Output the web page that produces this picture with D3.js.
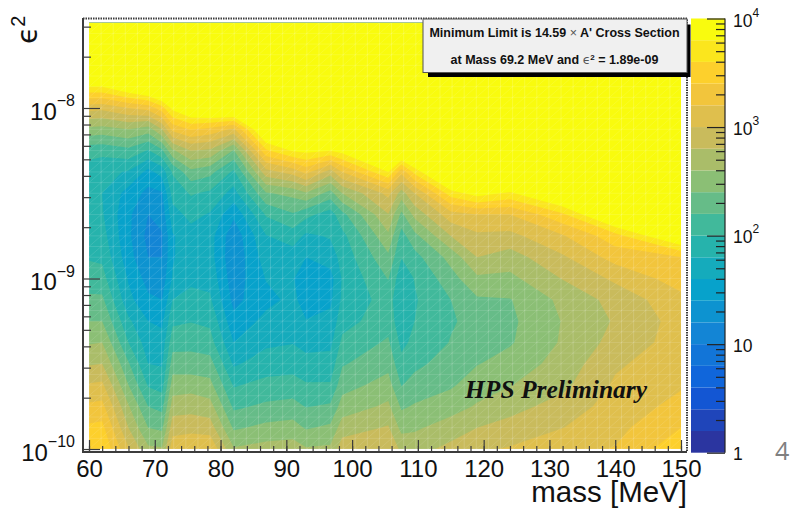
<!DOCTYPE html>
<html>
<head>
<meta charset="utf-8">
<script src="https://cdn.jsdelivr.net/npm/d3@7"></script>
<style>
  html, body { margin: 0; padding: 0; background: #fff; }
  svg { display: block; }
  text { font-family: "Liberation Sans", Arial, sans-serif; fill: #111; }
</style>
</head>
<body>
<div id="chart"></div>
<script>
// mass columns [MeV] and log10(eps^2) rows of the limit table
const masses = [60, 62, 66, 69, 71.1, 72.7, 75.5, 78.4, 82, 86.9, 91, 93, 96.7, 98.5, 105.5, 107.5, 109.5, 115, 119, 124, 132, 140, 150];
const logEps = [-10, -9.875, -9.75, -9.625, -9.5, -9.375, -9.25, -9.125, -9, -8.875, -8.75, -8.625, -8.5, -8.375, -8.25, -8.125, -8, -7.875, -7.75, -7.5];

// limit, in colour bar bands: level = 5 * log10(limit)
// one line per mass, bottom row of the plot first
const limitLevel = [
    [17.9, 17.2, 16.2, 15.1, 13.9, 12.9, 12.0, 11.2, 10.5, 9.9, 9.6, 9.4, 9.4, 9.5, 10.4, 12.7, 15.4, 19.0, 23, 30],
    [17.95, 17.3, 16.3, 15.2, 14.0, 13.0, 12.0, 11.2, 10.4, 9.8, 9.4, 9.1, 9.0, 9.3, 10.3, 12.6, 15.3, 19.0, 23, 30],
    [15.1, 14.0, 13.1, 12.0, 11.1, 10.0, 9.2, 8.3, 7.9, 7.4, 7.2, 7.2, 7.6, 8.9, 10.7, 13.0, 16.0, 20.2, 24, 30],
    [13.2, 12.0, 11.0, 9.9, 9.0, 8.5, 8.0, 7.2, 6.6, 6.0, 5.7, 6.0, 6.7, 7.7, 9.9, 12.5, 16.4, 21, 24, 30],
    [13.1, 11.8, 10.7, 9.6, 8.9, 8.4, 7.8, 7.0, 6.4, 6.0, 5.9, 6.4, 6.9, 8.4, 10.8, 14.0, 17.6, 22, 25, 30],
    [15.6, 14.6, 13.5, 12.5, 11.5, 10.6, 9.8, 9.0, 8.1, 7.9, 7.9, 8.6, 9.4, 10.1, 12.8, 16.3, 19.3, 23, 26, 30],
    [15.8, 14.7, 13.6, 12.6, 11.4, 10.7, 9.95, 9.3, 8.8, 8.6, 8.6, 9.3, 10.1, 11.7, 14.0, 17.1, 20.5, 24, 27, 30],
    [15.9, 14.5, 13.4, 12.3, 11.4, 10.4, 9.8, 9.15, 8.7, 8.4, 8.4, 8.9, 9.8, 11.3, 13.8, 16.7, 21, 24, 27, 30],
    [13.1, 11.85, 10.8, 9.9, 8.85, 8.0, 7.3, 6.7, 6.4, 6.2, 6.3, 7.2, 8.6, 9.8, 11.9, 15.8, 21.3, 25, 27, 30],
    [13.4, 12.25, 11.2, 10.3, 9.5, 8.8, 8.3, 7.7, 8.05, 8.5, 8.95, 10.1, 11.9, 14.6, 17.8, 21, 24, 26, 28, 30],
    [13.5, 12.4, 11.35, 10.4, 9.6, 8.95, 8.6, 8.25, 8.1, 8.5, 9.5, 10.9, 12.3, 15.4, 19.1, 23, 25, 26, 28, 30],
    [13.1, 11.9, 10.95, 10.1, 9.35, 8.65, 8.05, 7.5, 7.2, 8.0, 8.8, 10.3, 12.9, 16.3, 19.3, 23, 25, 26, 28, 30],
    [13.2, 12.2, 11.15, 10.1, 9.4, 8.75, 8.3, 7.8, 7.6, 8.5, 9.1, 9.5, 11.6, 14.5, 19.0, 23, 25, 26, 28, 30],
    [14.6, 13.5, 12.45, 11.6, 10.9, 10.25, 9.6, 9.2, 9.1, 9.35, 9.7, 10.7, 13.0, 16.0, 19.4, 23, 25, 26, 28, 30],
    [14.95, 14.1, 13.2, 12.4, 11.7, 11.15, 10.6, 10.45, 11.05, 11.8, 12.8, 13.95, 15.3, 19.0, 22, 24, 26, 27, 28, 30],
    [13.75, 12.7, 11.85, 10.95, 10.3, 9.75, 9.3, 9.15, 9.3, 10.05, 10.6, 11.75, 13.55, 16.3, 21.2, 24, 26, 27, 28, 30],
    [13.6, 12.85, 12.1, 11.4, 10.75, 10.25, 10.0, 9.9, 10.05, 10.65, 11.7, 13.3, 15.0, 18.3, 22, 24, 26, 27, 28, 30],
    [14.3, 13.45, 12.6, 11.85, 11.45, 11.05, 10.9, 11.0, 11.6, 12.35, 14.0, 15.6, 18.5, 22, 24, 25, 26, 27, 28, 30],
    [14.8, 14.0, 13.1, 12.55, 11.95, 11.5, 11.3, 11.85, 12.8, 14.0, 14.8, 16.0, 19.5, 23, 25, 26, 27, 28, 29, 30],
    [15.1, 14.35, 13.65, 12.95, 12.4, 11.9, 11.8, 11.95, 12.75, 13.55, 14.7, 16.0, 18.8, 22.5, 25, 26, 27, 28, 29, 30],
    [15.7, 14.98, 14.4, 13.75, 13.4, 13.12, 13.05, 13.25, 14.05, 14.85, 15.9, 17.8, 21, 24, 26, 27, 28, 28, 29, 30],
    [16.05, 15.7, 15.45, 15.15, 14.85, 14.35, 14.1, 14.35, 15.2, 16.4, 17.6, 21, 24, 26, 27, 28, 28, 29, 29, 30],
    [17.7, 17.0, 16.3, 15.9, 15.6, 15.45, 15.4, 15.7, 16.5, 17.0, 20.5, 23, 25, 26, 27, 28, 28, 29, 29, 30]
];

// ROOT kBird palette, first stop nudged to what the colour bar shows
const birdStops = [0, 0.125, 0.25, 0.375, 0.5, 0.625, 0.75, 0.875, 1];
const birdColors = ["#2b35a0", "#0f5cdd", "#1481d6", "#06a4ca", "#2eb7a4", "#87bf77", "#d1bb59", "#fec832", "#f9fb0e"];
const bandLevels = d3.range(0, 20);

const xMajor = d3.range(60, 151, 10);
const xMinor = d3.range(60, 151, 2);
const yMajor = [1e-10, 1e-9, 1e-8];
const barMajor = [1, 10, 100, 1000, 10000];

const width = 792, height = 510;

const svg = d3.select("#chart").append("svg")
    .attr("width", width)
    .attr("height", height);

const x = d3.scaleLinear().domain([60, 150]).range([89, 681]);
const y = d3.scaleLog().domain([1e-10, Math.pow(10, -7.5)]).range([449, 22.75]);
const bar = d3.scaleLog().domain([1, 10000]).range([452.7, 18.5]);

const bird = d3.scaleLinear().domain(birdStops).range(birdColors);
const bandColor = i => bird(i / 19);

// contour grid coords -> pixels, the table is not evenly spaced
const gridX = d3.scaleLinear()
    .domain(masses.map((m, i) => i + 0.5))
    .range(masses.map(m => x(m)))
    .clamp(true);
const gridY = d3.scaleLinear()
    .domain(logEps.map((e, j) => j + 0.5))
    .range(logEps.map(e => y(Math.pow(10, e))))
    .clamp(true);

const gridPath = d3.geoPath(d3.geoTransform({
    point(px, py) { this.stream.point(gridX(px), gridY(py)); }
}));

svg.append("clipPath").attr("id", "plot-clip")
    .append("rect")
    .attr("x", x(60))
    .attr("y", y.range()[1])
    .attr("width", x(150) - x(60))
    .attr("height", y.range()[0] - y.range()[1]);

const plot = svg.append("g").attr("clip-path", "url(#plot-clip)");

// filled contours, one per colour bar band
const rows = d3.transpose(limitLevel);
const contours = d3.contours()
    .size([masses.length, logEps.length])
    .thresholds(bandLevels)(rows.flat());

plot.selectAll("path.band")
    .data(contours)
    .enter().append("path")
    .attr("class", "band")
    .attr("d", gridPath)
    .attr("fill", d => bandColor(d.value));

// pale seams of the triangle mesh that the pdf renderer leaves behind
const meshMass = d3.range(60, 151, 1.84);
const meshEps = d3.range(-10, -7.49, 0.0625);
const meshLine = d3.line();
const mesh = plot.append("g").attr("fill", "none").attr("stroke", "#fff");

mesh.selectAll("line.vert")
    .data(meshMass)
    .enter().append("line")
    .attr("class", "vert")
    .attr("x1", d => x(d)).attr("x2", d => x(d))
    .attr("y1", y.range()[0]).attr("y2", y.range()[1])
    .attr("stroke-opacity", 0.17);

mesh.selectAll("line.horz")
    .data(meshEps)
    .enter().append("line")
    .attr("class", "horz")
    .attr("x1", x(60)).attr("x2", x(150))
    .attr("y1", d => y(Math.pow(10, d))).attr("y2", d => y(Math.pow(10, d)))
    .attr("stroke-opacity", 0.12);

const cells = d3.cross(meshMass, meshEps);
mesh.append("path")
    .attr("d", cells.map(c => meshLine([
        [x(c[0]), y(Math.pow(10, c[1]))],
        [x(c[0] + 1.84), y(Math.pow(10, c[1] + 0.0625))]
    ])).join(""))
    .attr("stroke-opacity", 0.11);

// frame: top and right edges print as dotted
const axisColor = "#3c3c3c";
svg.append("path")
    .attr("d", "M83,18.5H687V452")
    .attr("fill", "none")
    .attr("stroke", axisColor)
    .attr("stroke-width", 2)
    .attr("stroke-dasharray", "1.5 1");

svg.append("path")
    .attr("d", "M83,18V452H687")
    .attr("fill", "none")
    .attr("stroke", axisColor)
    .attr("stroke-width", 2);

function drawTicks(axis, translate, color) {
    const g = svg.append("g")
        .attr("transform", translate)
        .call(axis);
    g.select(".domain").remove();
    g.selectAll(".tick line").attr("stroke", color).attr("stroke-width", 1.2);
    return g;
}

// x axis, ticks point up into the plot
drawTicks(d3.axisBottom(x).tickValues(xMinor).tickSize(-6).tickFormat(""), "translate(0,452)", axisColor);
const xMajorAxis = drawTicks(
    d3.axisBottom(x).tickValues(xMajor).tickSize(-12).tickPadding(7).tickFormat(d => d),
    "translate(0,452)", axisColor);
xMajorAxis.selectAll("text")
    .attr("y", 25)
    .attr("dy", 0)
    .style("font-family", '"Liberation Sans", Arial, sans-serif')
    .style("font-size", "24px")
    .style("fill", "#111");

// y axis, ticks point right into the plot
const yMinor = yMajor.flatMap(d => d3.range(2, 10).map(k => k * d)).filter(d => d <= y.domain()[1]);
drawTicks(d3.axisRight(y).tickValues(yMinor).tickSize(8).tickFormat(""), "translate(83,0)", axisColor);
drawTicks(d3.axisRight(y).tickValues(yMajor).tickSize(17).tickFormat(""), "translate(83,0)", axisColor);

function powerLabel(px, py, anchor, size, supSize, exponent) {
    const t = svg.append("text")
        .attr("x", px)
        .attr("y", py)
        .attr("text-anchor", anchor)
        .style("font-size", size + "px");
    t.append("tspan").text("10");
    t.append("tspan")
        .attr("dy", -size * 0.55)
        .style("font-size", supSize + "px")
        .text(exponent);
}

yMajor.forEach(d => {
    const exponent = Math.round(Math.log10(d));
    powerLabel(75, y(d) + 11.5, "end", 24, 16, "\u2212" + Math.abs(exponent));
});

// axis titles
svg.append("text")
    .attr("x", 687)
    .attr("y", 502)
    .attr("text-anchor", "end")
    .style("font-size", "29.5px")
    .text("mass [MeV]");

const yTitle = svg.append("text")
    .attr("transform", "translate(37,44) rotate(-90)")
    .style("font-size", "28px");
yTitle.append("tspan")
    .style("font-family", '"DejaVu Sans", sans-serif')
    .text("\u03f5");
yTitle.append("tspan")
    .attr("dy", -12)
    .style("font-size", "20px")
    .text("2");

// colour bar
svg.selectAll("rect.bar-band")
    .data(bandLevels)
    .enter().append("rect")
    .attr("class", "bar-band")
    .attr("x", 691)
    .attr("width", 34)
    .attr("y", d => bar(Math.pow(10, (d + 1) / 5)))
    .attr("height", d => bar(Math.pow(10, d / 5)) - bar(Math.pow(10, (d + 1) / 5)))
    .attr("fill", d => bandColor(d));

const barMinor = barMajor.slice(0, 4).flatMap(d => d3.range(2, 10).map(k => k * d));
drawTicks(d3.axisLeft(bar).tickValues(barMinor).tickSize(9).tickFormat(""), "translate(725,0)", "#222");
drawTicks(d3.axisLeft(bar).tickValues(barMajor).tickSize(18).tickFormat(""), "translate(725,0)", "#222");
svg.append("line")
    .attr("x1", 725).attr("x2", 725)
    .attr("y1", bar(10000)).attr("y2", bar(1))
    .attr("stroke", "#222")
    .attr("stroke-width", 1.2);

barMajor.forEach(d => {
    const py = bar(d) + 7.5;
    if (d >= 100) {
        powerLabel(733, py + (d === 10000 ? 1 : 0), "start", 17.5, 12, Math.round(Math.log10(d)));
    } else {
        svg.append("text")
            .attr("x", 733)
            .attr("y", py)
            .style("font-size", "17.5px")
            .text(d);
    }
});

// statistics box
svg.append("rect")
    .attr("x", 428).attr("y", 24.5)
    .attr("width", 262.5).attr("height", 52.5)
    .attr("fill", "#000");
svg.append("rect")
    .attr("x", 423).attr("y", 19)
    .attr("width", 264).attr("height", 53.5)
    .attr("fill", "#f0f0f0")
    .attr("stroke", "#555");

const boxLine1 = svg.append("text")
    .attr("x", 554.5).attr("y", 36.5)
    .attr("text-anchor", "middle")
    .style("font-size", "12.5px")
    .style("font-weight", "bold");
boxLine1.append("tspan").text("Minimum Limit is 14.59 ");
boxLine1.append("tspan").style("font-weight", "normal").style("fill", "#555").text("\u00d7");
boxLine1.append("tspan").text(" A' Cross Section");

const boxLine2 = svg.append("text")
    .attr("x", 554.5).attr("y", 64.3)
    .attr("text-anchor", "middle")
    .style("font-size", "12.5px")
    .style("font-weight", "bold");
boxLine2.append("tspan").text("at Mass 69.2 MeV and ");
boxLine2.append("tspan")
    .style("font-weight", "normal")
    .style("fill", "#555")
    .style("font-family", '"DejaVu Sans", sans-serif')
    .text("\u03f5");
boxLine2.append("tspan").attr("dy", -4).style("font-size", "8px").text("2");
boxLine2.append("tspan").attr("dy", 4).text(" = 1.89e-09");

svg.append("text")
    .attr("x", 465).attr("y", 398)
    .style("font-family", '"Liberation Serif", serif')
    .style("font-weight", "bold")
    .style("font-style", "italic")
    .style("font-size", "25.5px")
    .text("HPS Preliminary");

// slide number
svg.append("text")
    .attr("x", 775).attr("y", 460)
    .style("font-family", '"Open Sans", sans-serif')
    .style("font-size", "25px")
    .style("fill", "#808080")
    .text("4");
</script>
</body>
</html>
